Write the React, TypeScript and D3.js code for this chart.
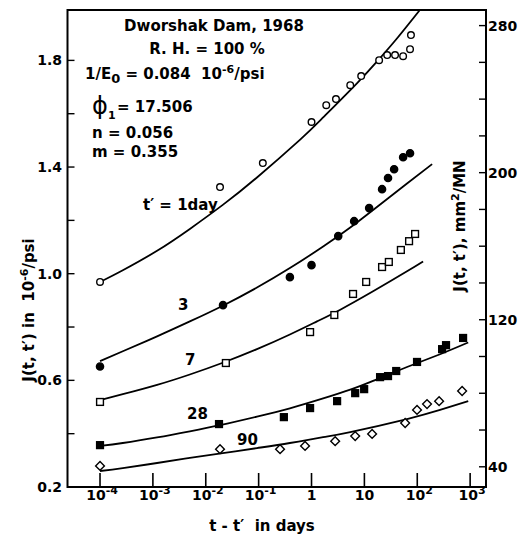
import React from "react";
import * as d3 from "d3";

// ---- measured points ----
const t1 = [1e-4, 0.0186, 0.12, 1.0, 1.9, 2.9, 5.4, 8.7, 19, 27, 38, 54, 73, 76];
const j1 = [0.969, 1.325, 1.415, 1.569, 1.632, 1.655, 1.707, 1.741, 1.801, 1.82, 1.82, 1.816, 1.842, 1.895];

const t3 = [1e-4, 0.0212, 0.39, 1.0, 3.2, 6.4, 12.3, 21.6, 28, 36.5, 54, 73];
const j3 = [0.652, 0.882, 0.987, 1.032, 1.141, 1.197, 1.246, 1.317, 1.359, 1.392, 1.437, 1.452];

const t7 = [1e-4, 0.024, 0.94, 2.7, 6.1, 10.8, 21.6, 29, 49, 70, 91];
const j7 = [0.519, 0.665, 0.781, 0.845, 0.924, 0.969, 1.025, 1.044, 1.089, 1.122, 1.149];

const t28 = [1e-4, 0.0178, 0.3, 0.94, 3.05, 6.7, 9.9, 19.8, 28, 40, 99, 295, 350, 736];
const j28 = [0.357, 0.436, 0.462, 0.496, 0.522, 0.552, 0.567, 0.612, 0.616, 0.635, 0.669, 0.717, 0.732, 0.759];

const t90 = [1e-4, 0.0186, 0.254, 0.755, 2.8, 6.7, 14, 59, 99, 153, 259, 705];
const j90 = [0.279, 0.342, 0.342, 0.354, 0.372, 0.391, 0.399, 0.44, 0.489, 0.511, 0.522, 0.56];

// ---- fitted curves ----
const ct1 = [1e-4, 2.7e-4, 1.2e-3, 5e-3, 0.021, 0.093, 0.61, 1.66, 7.3, 17.4, 41.6, 113];
const cj1 = [0.969, 1.013, 1.086, 1.168, 1.258, 1.361, 1.503, 1.586, 1.715, 1.796, 1.883, 1.99];

const ct3 = [1e-4, 2.7e-4, 1.2e-3, 5e-3, 0.021, 0.093, 0.39, 1.66, 5.4, 14.6, 64, 191];
const cj3 = [0.672, 0.709, 0.765, 0.821, 0.88, 0.948, 1.021, 1.102, 1.173, 1.239, 1.338, 1.411];

const ct7 = [1e-4, 2.7e-4, 1.2e-3, 5e-3, 0.021, 0.093, 0.39, 1.27, 3.5, 14.6, 64, 129];
const cj7 = [0.526, 0.548, 0.583, 0.622, 0.666, 0.717, 0.772, 0.821, 0.865, 0.934, 1.009, 1.046];

const ct28 = [1e-4, 2.7e-4, 1.2e-3, 5e-3, 0.0186, 0.093, 0.39, 1.66, 5.4, 14.6, 64, 270, 920];
const cj28 = [0.354, 0.365, 0.386, 0.409, 0.432, 0.464, 0.495, 0.532, 0.565, 0.598, 0.65, 0.698, 0.742];

const ct90 = [1e-4, 2.7e-4, 1.2e-3, 5e-3, 0.021, 0.093, 0.39, 1.66, 5.4, 64, 270, 920];
const cj90 = [0.26, 0.271, 0.29, 0.309, 0.327, 0.346, 0.365, 0.387, 0.406, 0.455, 0.489, 0.522];

// ---- axis ticks ----
const xTickExp = [-4, -3, -2, -1, 0, 1, 2, 3];
const yTicksLeft = [0.2, 0.4, 0.6, 0.8, 1.0, 1.2, 1.4, 1.6, 1.8];
const yLabelsLeft = [0.2, 0.6, 1.0, 1.4, 1.8];
const yTicksRight = [40, 60, 80, 100, 120, 140, 160, 180, 200, 220, 240, 260, 280];
const yLabelsRight = [40, 120, 200, 280];
const PSI_TO_MN = 145.04;

const W = 524, H = 534;
const L = 67.5, R = 486, T = 10, B = 487;
const FONT = "'DejaVu Sans', sans-serif";
const NB = "\u00A0";

export default function App() {
  const x = d3.scaleLog().domain([Math.pow(10, -4.615), Math.pow(10, 3.3)]).range([L, R]);
  const y = d3.scaleLinear().domain([0.2, 1.989]).range([B, T]);
  const yR = d3.scaleLinear().domain([0.2 * PSI_TO_MN, 1.989 * PSI_TO_MN]).range([B, T]);

  const line = d3
    .line<[number, number]>()
    .x((d) => x(d[0]))
    .y((d) => y(d[1]))
    .curve(d3.curveNatural);

  const curves = [
    [ct1, cj1],
    [ct3, cj3],
    [ct7, cj7],
    [ct28, cj28],
    [ct90, cj90],
  ].map(([ts, js]) => ts.map((t, i) => [t, js[i]] as [number, number]));

  const sw = 1.4;
  const circle = (t: number, j: number, filled: boolean, k: string) => (
    <circle key={k} cx={x(t)} cy={y(j)} r={filled ? 3.6 : 3.3} fill={filled ? "#000" : "#fff"} stroke="#000" strokeWidth={sw} />
  );
  const square = (t: number, j: number, filled: boolean, k: string) => (
    <rect key={k} x={x(t) - 3.4} y={y(j) - 3.4} width={6.8} height={6.8} fill={filled ? "#000" : "#fff"} stroke="#000" strokeWidth={sw} />
  );
  const diamond = (t: number, j: number, k: string) => {
    const cx = x(t), cy = y(j), s = 4.4;
    return <path key={k} d={`M${cx},${cy - s}L${cx + s},${cy}L${cx},${cy + s}L${cx - s},${cy}Z`} fill="#fff" stroke="#000" strokeWidth={sw} />;
  };

  const txt = { fontFamily: FONT, fontWeight: 700, fill: "#000" } as const;

  return (
    <svg width={W} height={H} style={{ position: "absolute", left: 0, top: 0, background: "#fff" }}>
      <defs>
        <clipPath id="plot">
          <rect x={L} y={T} width={R - L} height={B - T} />
        </clipPath>
      </defs>
      <rect x={0} y={0} width={W} height={H} fill="#fff" />

      {/* curves */}
      <g clipPath="url(#plot)">
        {curves.map((c, i) => (
          <path key={i} d={line(c) || ""} fill="none" stroke="#000" strokeWidth={1.8} />
        ))}
      </g>

      {/* points */}
      {t1.map((t, i) => circle(t, j1[i], false, "a" + i))}
      {t3.map((t, i) => circle(t, j3[i], true, "b" + i))}
      {t7.map((t, i) => square(t, j7[i], false, "c" + i))}
      {t28.map((t, i) => square(t, j28[i], true, "d" + i))}
      {t90.map((t, i) => diamond(t, j90[i], "e" + i))}

      {/* frame */}
      <rect x={L} y={T} width={R - L} height={B - T} fill="none" stroke="#000" strokeWidth={2} />

      {/* bottom ticks */}
      {xTickExp.map((e) => {
        const xx = x(Math.pow(10, e));
        return <line key={"xt" + e} x1={xx} x2={xx} y1={B} y2={B - 14} stroke="#000" strokeWidth={1.6} />;
      })}
      {xTickExp.map((e) => {
        const xx = x(Math.pow(10, e));
        if (e === 0)
          return (
            <text key={"xl" + e} x={xx} y={500} textAnchor="middle" fontSize={14} {...txt}>1</text>
          );
        if (e === 1)
          return (
            <text key={"xl" + e} x={xx} y={500} textAnchor="middle" fontSize={14} {...txt}>10</text>
          );
        return (
          <text key={"xl" + e} x={xx + 2} y={500} textAnchor="middle" fontSize={14} {...txt}>
            10<tspan dy={-6} fontSize={11}>{e}</tspan>
          </text>
        );
      })}
      <text x={262} y={531} textAnchor="middle" fontSize={15} {...txt}>{`t - t′${NB}${NB}in days`}</text>

      {/* left ticks */}
      {yTicksLeft.map((v) => (
        <line key={"yl" + v} x1={L} x2={L + 7} y1={y(v)} y2={y(v)} stroke="#000" strokeWidth={1.4} />
      ))}
      {yLabelsLeft.map((v) => (
        <text key={"yll" + v} x={62} y={y(v) + 5} textAnchor="end" fontSize={14} {...txt}>{v.toFixed(1)}</text>
      ))}
      <text transform={`translate(34,310) rotate(-90)`} textAnchor="middle" fontSize={15} {...txt}>
        {`J(t, t′) in${NB}${NB}10`}<tspan dy={-6} fontSize={11}>-6</tspan><tspan dy={6}>/psi</tspan>
      </text>

      {/* right ticks */}
      {yTicksRight.map((v) => (
        <line key={"yr" + v} x1={R} x2={R - 7} y1={yR(v)} y2={yR(v)} stroke="#000" strokeWidth={1.4} />
      ))}
      {yLabelsRight.map((v) => (
        <text key={"yrl" + v} x={488} y={yR(v) + 5} textAnchor="start" fontSize={14} {...txt}>{v}</text>
      ))}
      <text transform={`translate(465,226) rotate(-90)`} textAnchor="middle" fontSize={15} {...txt}>
        J(t, t′), mm<tspan dy={-6} fontSize={11}>2</tspan><tspan dy={6}>/MN</tspan>
      </text>

      {/* annotations */}
      <text x={214} y={31} textAnchor="middle" fontSize={15} {...txt}>Dworshak Dam, 1968</text>
      <text x={207} y={54} textAnchor="middle" fontSize={15} {...txt}>R. H. = 100 %</text>
      <text x={85} y={79} fontSize={15} {...txt}>
        1/E<tspan dy={4} fontSize={13}>0</tspan><tspan dy={-4}>{` = 0.084${NB}${NB}10`}</tspan>
        <tspan dy={-6} fontSize={11}>-6</tspan><tspan dy={6}>/psi</tspan>
      </text>
      <text x={92} y={114} fontSize={24} {...txt} fontWeight={400}>ϕ</text>
      <text x={108} y={119} fontSize={11} {...txt}>1</text>
      <text x={117} y={112} fontSize={15} {...txt}>= 17.506</text>
      <text x={92} y={138} fontSize={15} {...txt}>n = 0.056</text>
      <text x={92} y={157} fontSize={15} {...txt}>m = 0.355</text>

      {/* curve labels */}
      <text x={143} y={210} fontSize={15} {...txt}>t′ = 1day</text>
      <text x={178} y={310} fontSize={15} {...txt}>3</text>
      <text x={185} y={365} fontSize={15} {...txt}>7</text>
      <text x={187} y={419} fontSize={15} {...txt}>28</text>
      <text x={237} y={445} fontSize={15} {...txt}>90</text>
    </svg>
  );
}
